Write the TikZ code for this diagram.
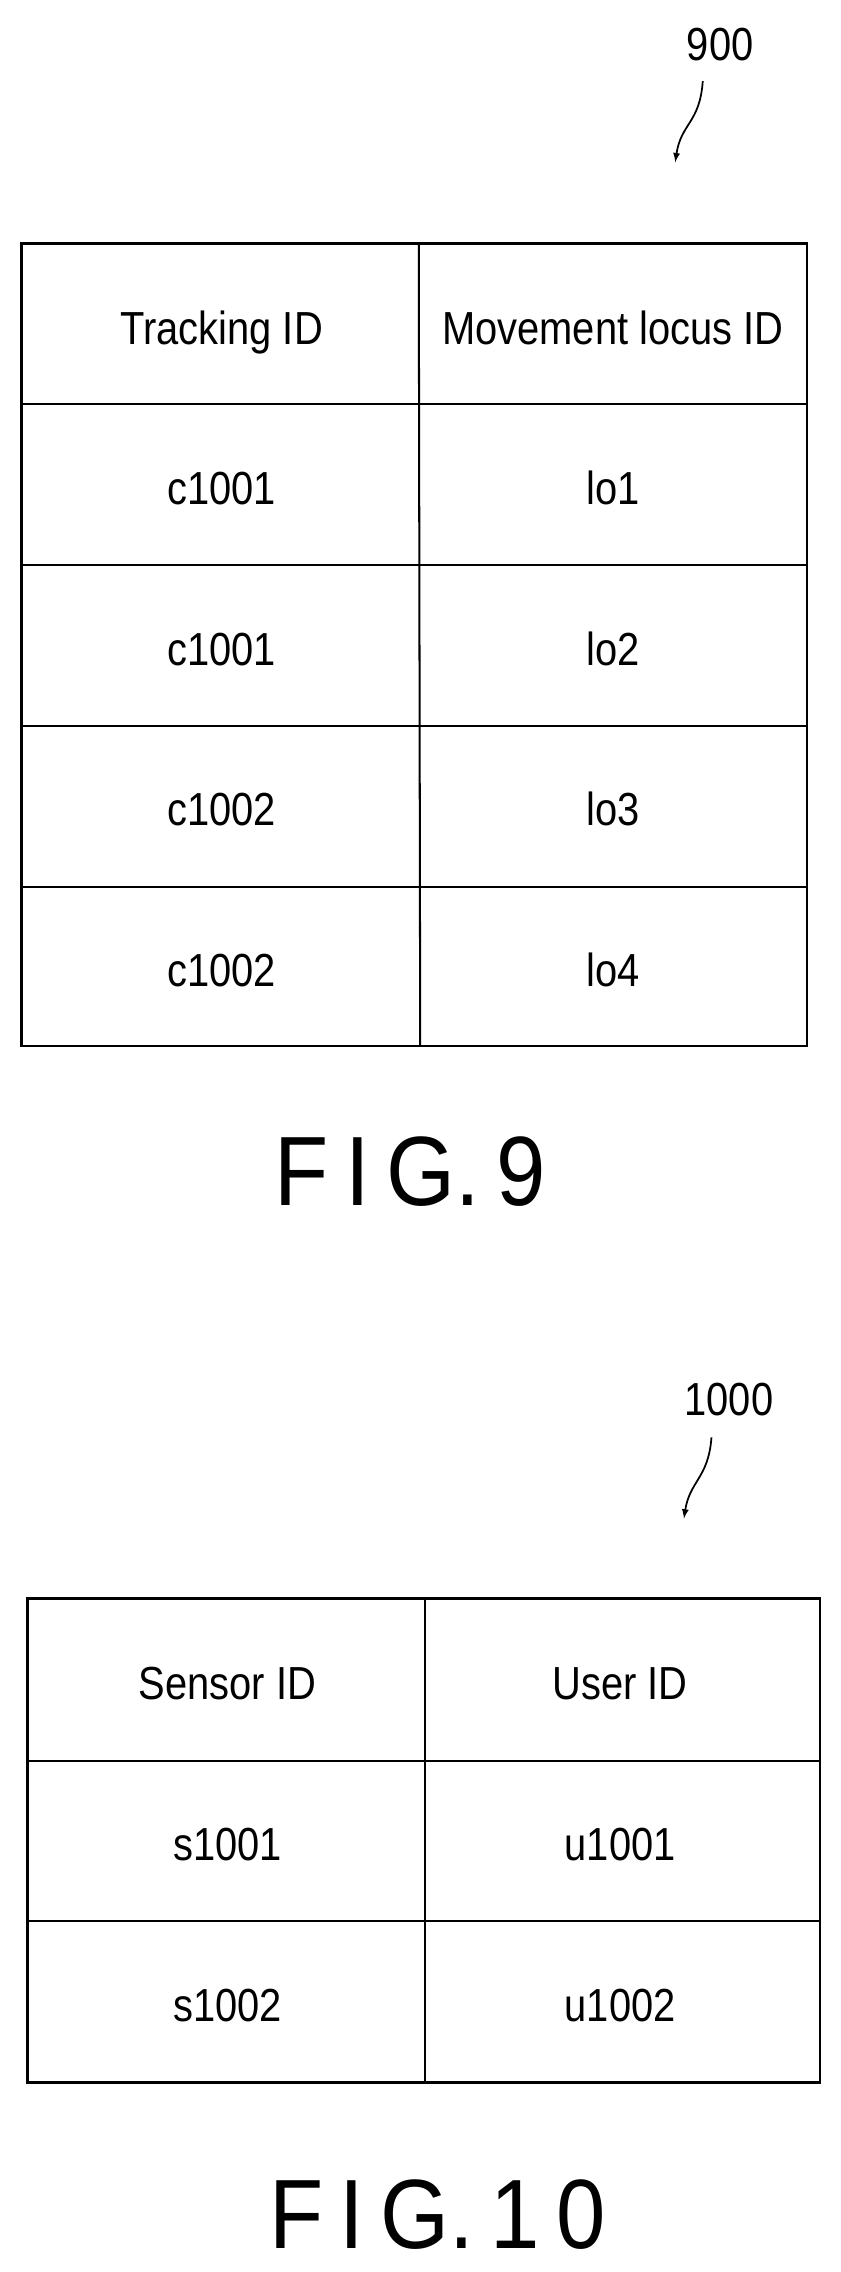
\documentclass[tikz,border=0pt]{standalone}
\usepackage{fontspec}
\setmainfont{Liberation Sans}[FakeStretch=0.86]
\newfontfamily\figfont{Liberation Sans}[FakeStretch=0.9]
\begin{document}
\begin{tikzpicture}[x=1pt,y=-1pt,
  cell/.style={font=\fontsize{32}{36}\selectfont,anchor=base},
  lbl/.style={font=\fontsize{32}{36}\selectfont,anchor=base},
  fig/.style={font=\figfont\fontsize{68}{72}\selectfont,anchor=base},
  ld/.style={line width=1.2pt,-latex}]
\useasboundingbox (0,0) rectangle (580,1568);
% Table 900
\draw[line width=1.8pt] (15,168) rectangle (557,722);
\foreach \y in {279,390,501,612} \draw[line width=1.4pt] (15,\y) -- (557,\y);
\draw[line width=1.4pt] (289,168) -- (290,722);
\node[cell] (h1) at (153,238) {Tracking ID};
\node[cell] (h2) at (423,238) {Movement locus ID};
\node[cell] (a1) at (153,348) {c1001}; \node[cell] (b1) at (423,348) {lo1};
\node[cell] (a2) at (153,459) {c1001}; \node[cell] (b2) at (423,459) {lo2};
\node[cell] (a3) at (153,570) {c1002}; \node[cell] (b3) at (423,570) {lo3};
\node[cell] (a4) at (153,681) {c1002}; \node[cell] (b4) at (423,681) {lo4};
\node[lbl] (n900) at (497,42) {900};
\coordinate (t900) at (466,112);
\draw[ld] (485,56) .. controls (483,85) and (470,85) .. (t900);
\node[fig] (f9) at (283,832) {F\,I\,G.\,9};
% Table 1000
\draw[line width=1.8pt] (19,1103) rectangle (566,1437);
\foreach \y in {1215,1326} \draw[line width=1.4pt] (19,\y) -- (566,\y);
\draw[line width=1.4pt] (293,1103) -- (293,1437);
\node[cell] (s0) at (157,1173) {Sensor ID};
\node[cell] (u0) at (428,1173) {User ID};
\node[cell] (s1) at (157,1284) {s1001}; \node[cell] (u1) at (428,1284) {u1001};
\node[cell] (s2) at (157,1395) {s1002}; \node[cell] (u2) at (428,1395) {u1002};
\node[lbl] (n1000) at (503,977) {1000};
\coordinate (t1000) at (472,1048);
\draw[ld] (491,992) .. controls (489,1020) and (476,1022) .. (t1000);
\node[fig] (f10) at (302,1552) {F\,I\,G.\,1\,0};
\end{tikzpicture}
\end{document}
